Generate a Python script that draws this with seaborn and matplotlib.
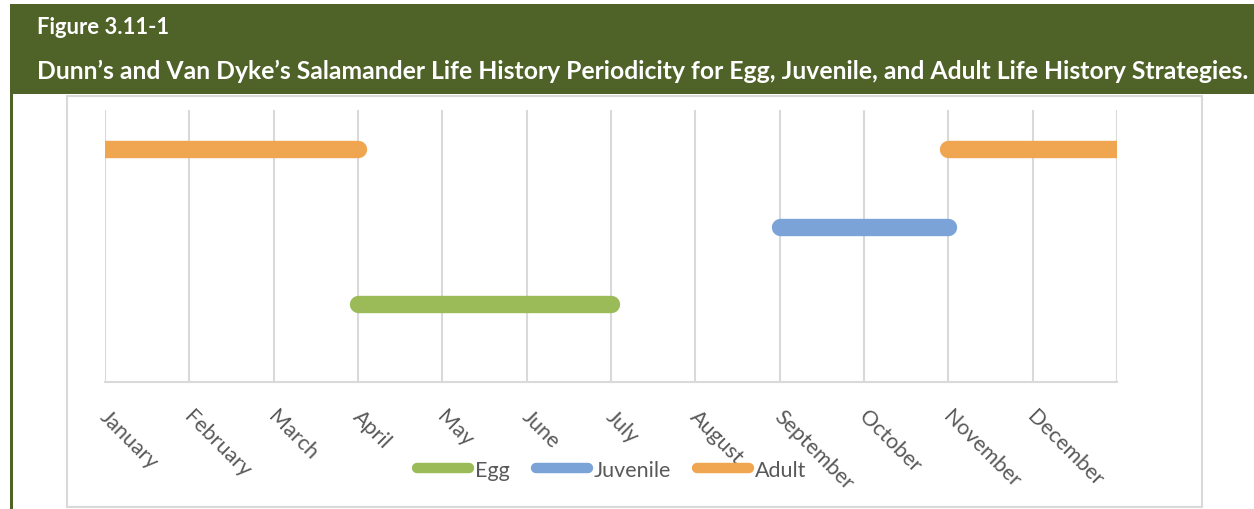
"""
Dunn's and Van Dyke's salamander life history periodicity chart.
"""
import pandas as pd
import matplotlib.pyplot as plt
import matplotlib.transforms as mtransforms
import seaborn as sns
from matplotlib.patches import Rectangle
from matplotlib.lines import Line2D

# Data
months = ['January', 'February', 'March', 'April', 'May', 'June', 'July',
          'August', 'September', 'October', 'November', 'December']
stages = ['Egg', 'Juvenile', 'Adult']
stage_levels = [1, 2, 3]
# one entry per bar segment: stage, start month index, end month index
seg_stage = ['Adult', 'Egg', 'Juvenile', 'Adult']
seg_start = [0, 3, 8, 10]
seg_end = [3, 6, 10, 12]

colors = {'Egg': '#9BBB59', 'Juvenile': '#7BA3D7', 'Adult': '#F0A551'}
header_green = '#4F6228'
grid_gray = '#D9D9D9'
text_gray = '#595959'

# build long table for seaborn
rows = []
level_of = dict(zip(stages, stage_levels))
for i, (st, a, b) in enumerate(zip(seg_stage, seg_start, seg_end)):
    rows.append({'segment': i, 'stage': st, 'month': a, 'level': level_of[st]})
    rows.append({'segment': i, 'stage': st, 'month': b, 'level': level_of[st]})
df = pd.DataFrame(rows)

sns.set_theme(style='white')
plt.rcParams['font.family'] = ['Lato', 'DejaVu Sans']

W, H = 1254, 510
fig = plt.figure(figsize=(W / 100, H / 100), dpi=100)


def fx(px):
    return px / W


def fy(py):
    return 1 - py / H


# header band and left rule
fig.patches.append(Rectangle((fx(10), fy(95)), fx(W - 10), (90) / H,
                             transform=fig.transFigure, facecolor=header_green,
                             edgecolor='none', zorder=0))
fig.patches.append(Rectangle((fx(10), 0), fx(2.5), fy(5),
                             transform=fig.transFigure, facecolor=header_green,
                             edgecolor='none', zorder=0))
# chart area border
fig.patches.append(Rectangle((fx(67), fy(508)), fx(1202 - 67), (508 - 97) / H,
                             transform=fig.transFigure, facecolor='none',
                             edgecolor=grid_gray, linewidth=1.5, zorder=0))

fig.text(fx(37), fy(28), 'Figure 3.11-1', color='white', fontsize=15.8,
         fontweight='bold', va='center', ha='left')
fig.text(fx(37), fy(71),
         'Dunn\u2019s and Van Dyke\u2019s Salamander Life History Periodicity for Egg, '
         'Juvenile, and Adult Life History Strategies.',
         color='white', fontsize=17.8, fontweight='bold', va='center', ha='left')

ax = fig.add_axes([fx(105), fy(383), fx(1117 - 105), (383 - 111) / H])
sns.lineplot(data=df, x='month', y='level', hue='stage', units='segment',
             estimator=None, palette=colors, linewidth=12.5,
             solid_capstyle='round', legend=False, ax=ax)

ax.set_xlim(0, 12)
ax.set_ylim(0, 3.5)
ax.set_xticks(range(13))
ax.set_xticklabels(months + [''], rotation=-45, ha='left', va='top',
                   rotation_mode='anchor', color=text_gray, fontsize=15.5)
ax.tick_params(axis='x', length=0, pad=17)
# nudge the slanted labels a little to the right
shift = mtransforms.ScaledTranslation(0.05, 0, fig.dpi_scale_trans)
for lab in ax.get_xticklabels():
    lab.set_transform(lab.get_transform() + shift)
ax.set_yticks([])
ax.set_xlabel('')
ax.set_ylabel('')
ax.grid(axis='x', color=grid_gray, linewidth=1.5)
ax.set_axisbelow(True)
for side in ['top', 'right', 'left']:
    ax.spines[side].set_visible(False)
ax.spines['bottom'].set_color(grid_gray)
ax.spines['bottom'].set_linewidth(1.5)

handles = [Line2D([0], [0], color=colors[s], linewidth=7.5, solid_capstyle='round')
           for s in stages]
fig.legend(handles, stages, loc='center', bbox_to_anchor=(fx(612), fy(471)),
           ncol=3, frameon=False, fontsize=15.5, handlelength=2.4,
           handletextpad=0.3, columnspacing=1.2, labelcolor=text_gray)

fig.savefig('out.png', dpi=100)
